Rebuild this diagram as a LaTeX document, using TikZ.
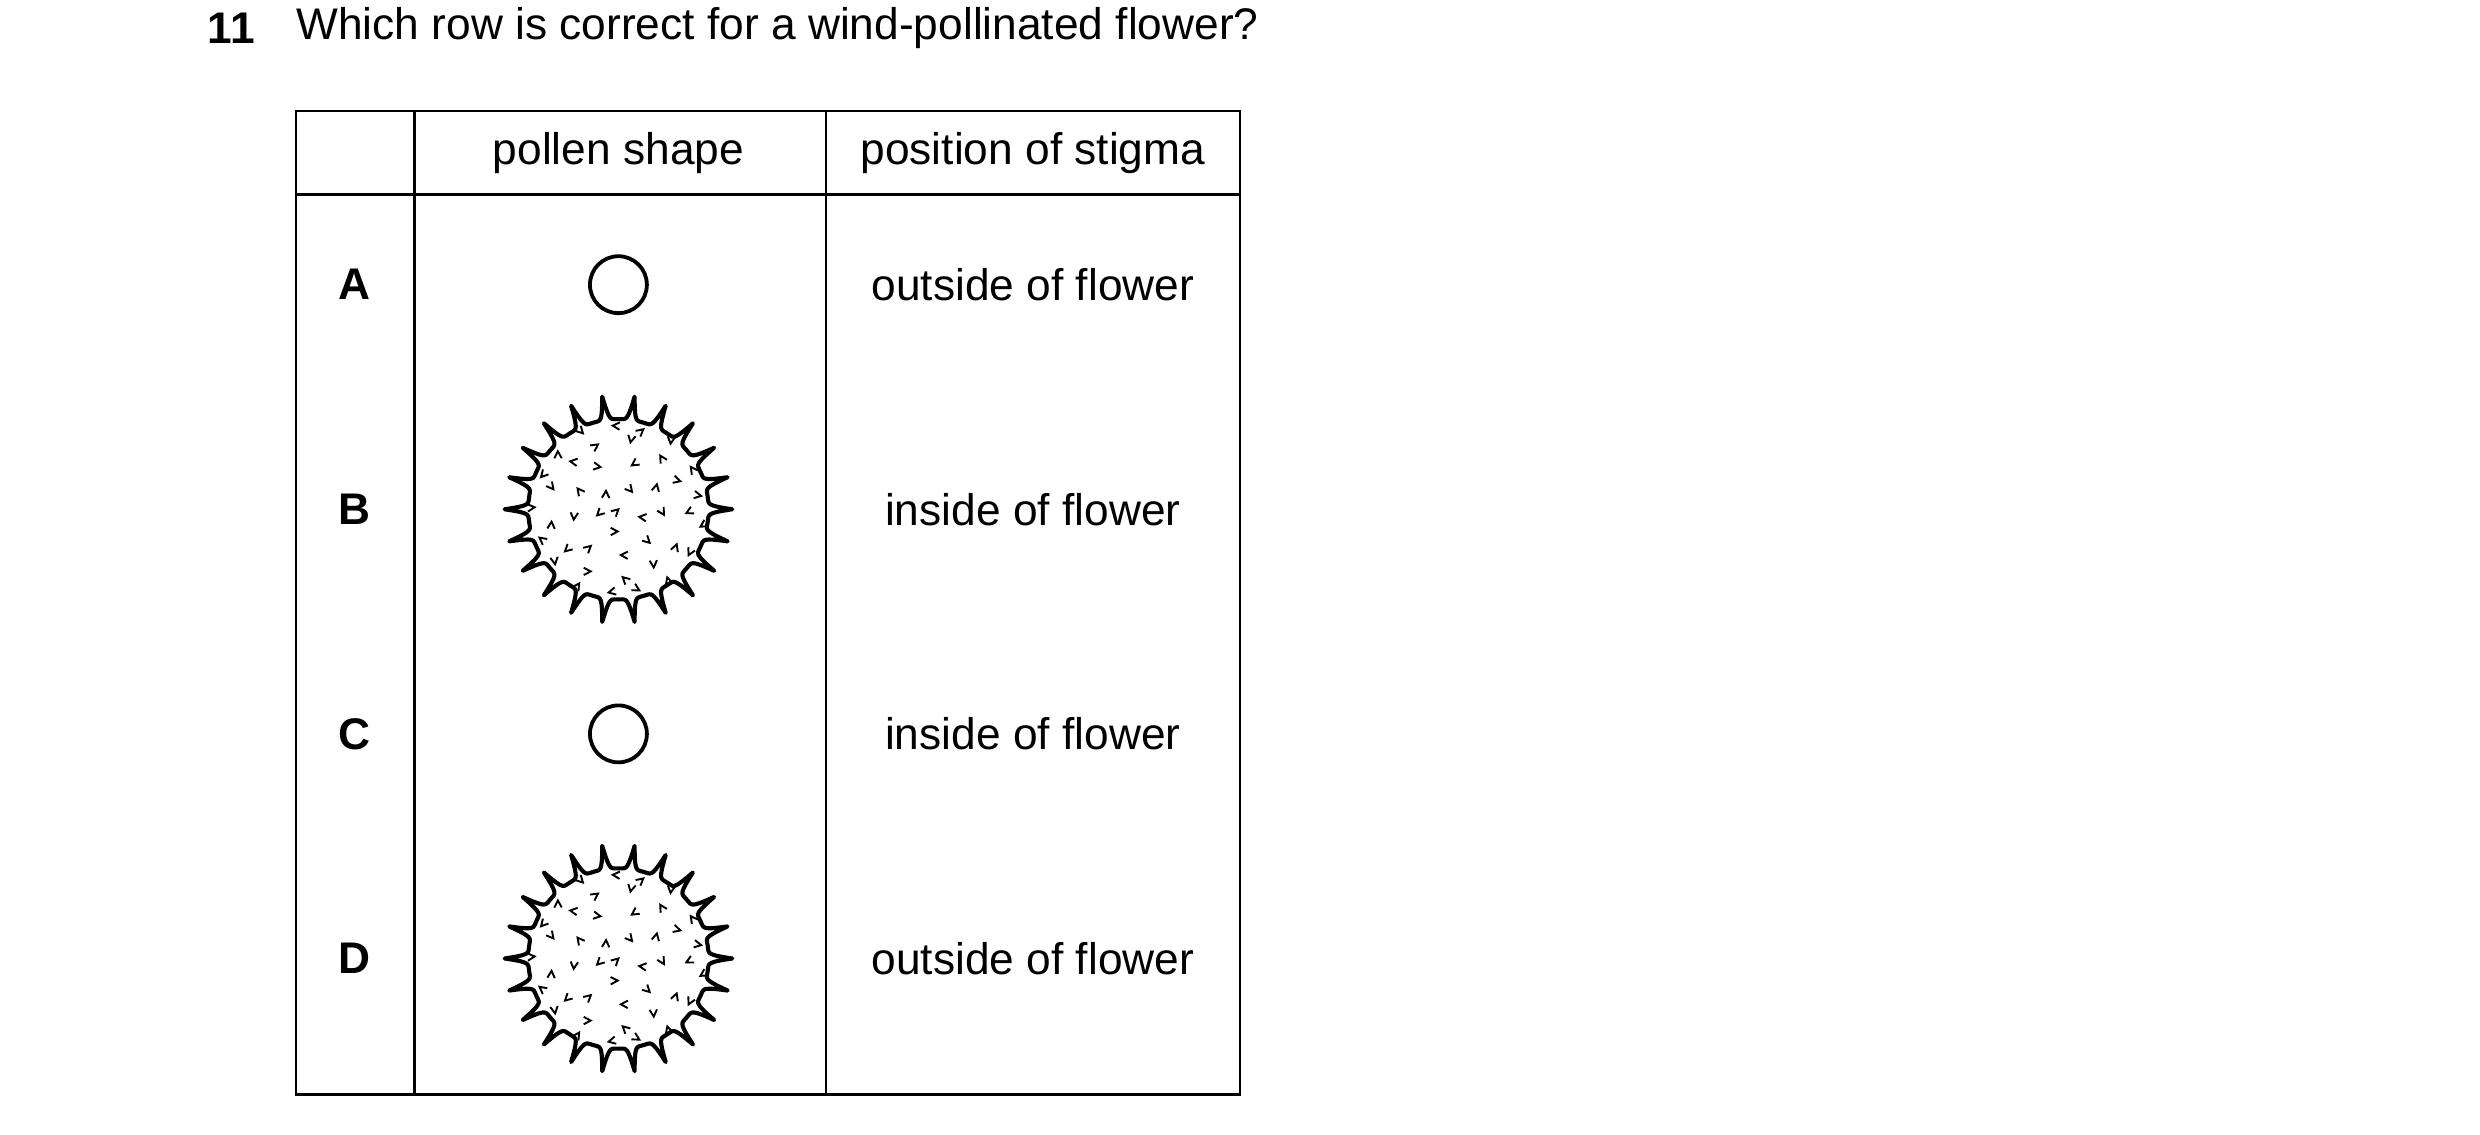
\documentclass[tikz,border=0pt]{standalone}
\usepackage{fontspec}
\setmainfont{Liberation Sans}
\begin{document}
\begin{tikzpicture}[x=0.5pt,y=-0.5pt,
  txt/.style={font=\fontsize{14}{16}\selectfont,inner sep=0pt},
  lbl/.style={font=\fontsize{14}{16}\selectfont\bfseries,inner sep=0pt},
  grid/.style={line width=0.7pt},
  smooth pollen/.pic={
    \draw[line width=1.2pt] (0,0) circle (18);
  },
  spiky pollen/.pic={
    \draw[line width=1.3pt,line join=round] plot[domain=0:360,samples=661,variable=\t]
      ({(57+15*(1-abs(sin(11*\t)))^3)*cos(\t)},{(57+15*(1-abs(sin(11*\t)))^3)*sin(\t)}) -- cycle;
    \foreach \r/\n/\o in {0/1/0, 14/5/20, 29/9/7, 43/13/31, 53/17/12}{
      \foreach \k in {1,...,\n}{
        \pgfmathsetmacro\a{360/\n*\k+\o}
        \pgfmathsetmacro\d{mod(\k*137+\r*3,360)}
        \draw[line width=0.6pt] ({\r*cos(\a)+5*cos(\d+28)},{\r*sin(\a)+5*sin(\d+28)})
          -- ({\r*cos(\a)},{\r*sin(\a)}) -- ({\r*cos(\a)+5*cos(\d-28)},{\r*sin(\a)+5*sin(\d-28)});
      }
    }
  }]
\useasboundingbox (0,0) rectangle (1568,717.6);
\node[txt,anchor=west,font=\fontsize{14}{16}\selectfont\bfseries] (q) at (131,18) {11};
\node[txt,anchor=west] (qt) at (187,18) {Which row is correct for a wind-pollinated flower?};
\draw[grid] (187,70) rectangle (784,692);
\draw[grid] (187,123) -- (784,123);
\draw[grid] (262,70) -- (262,692);
\draw[grid] (522,70) -- (522,692);
\node[txt] (h1) at (391,97) {pollen shape};
\node[txt] (h2) at (653,97) {position of stigma};
\node[lbl] (la) at (224,180) {A};
\node[lbl] (lb) at (224,322) {B};
\node[lbl] (lc) at (224,464) {C};
\node[lbl] (ld) at (224,606) {D};
\node[txt] (ta) at (653,180) {outside of flower};
\node[txt] (tb) at (653,322) {inside of flower};
\node[txt] (tc) at (653,464) {inside of flower};
\node[txt] (td) at (653,606) {outside of flower};
\pic at (391,180) {smooth pollen};
\pic at (391,464) {smooth pollen};
\pic at (391,322) {spiky pollen};
\pic at (391,606) {spiky pollen};
\end{tikzpicture}
\end{document}
